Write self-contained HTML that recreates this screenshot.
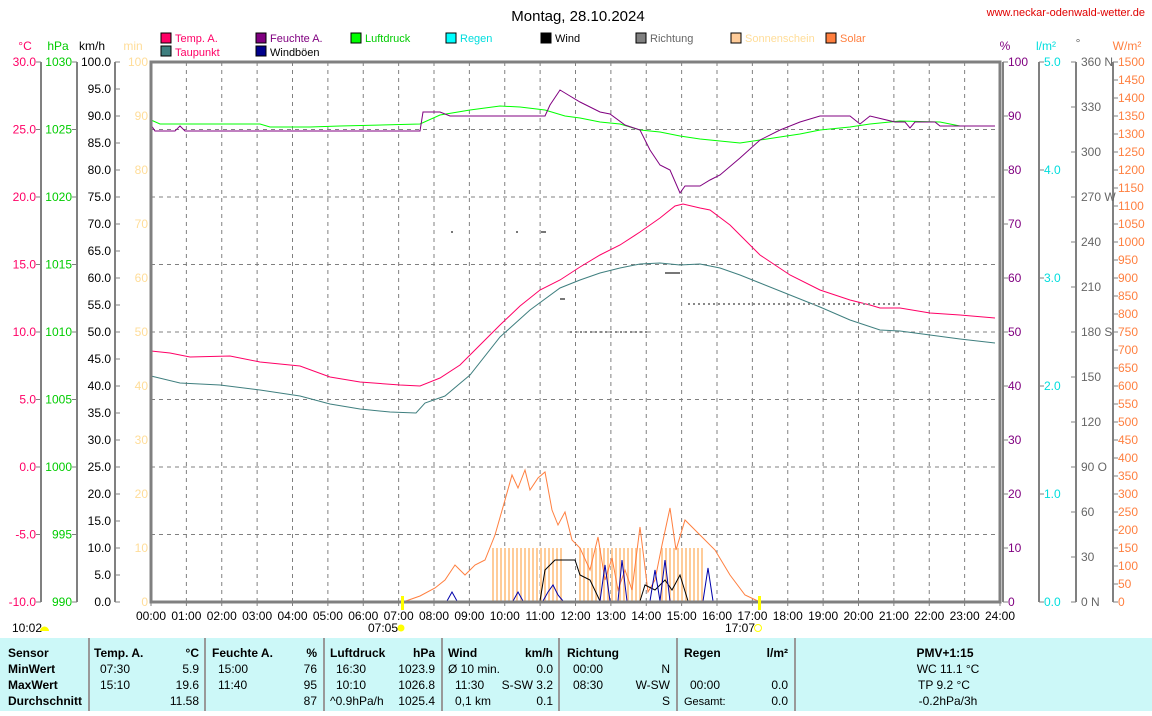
<!DOCTYPE html>
<html><head><meta charset="utf-8"><style>
body{margin:0;background:#fff;width:1152px;height:711px;overflow:hidden;font-family:"Liberation Sans",sans-serif}
svg text{font-family:"Liberation Sans",sans-serif;font-size:12px}
</style></head><body>
<svg width="1152" height="711" xmlns="http://www.w3.org/2000/svg">
<text x="578" y="21" text-anchor="middle" font-size="15" style="font-size:15px">Montag, 28.10.2024</text>
<text x="1145" y="16" text-anchor="end" fill="#e00000" style="font-size:11px">www.neckar-odenwald-wetter.de</text>
<g style="font-size:11px">
<rect x="161" y="33" width="10" height="10" fill="#f06" stroke="#000"/><text x="175" y="42" fill="#f06" style="font-size:11px">Temp. A.</text>
<rect x="161" y="46" width="10" height="10" fill="#3f7f7f" stroke="#000"/><text x="175" y="56" fill="#f06" style="font-size:11px">Taupunkt</text>
<rect x="256" y="33" width="10" height="10" fill="#800080" stroke="#000"/><text x="270" y="42" fill="#800080" style="font-size:11px">Feuchte A.</text>
<rect x="256" y="46" width="10" height="10" fill="#00008b" stroke="#000"/><text x="270" y="56" style="font-size:11px">Windböen</text>
<rect x="351" y="33" width="10" height="10" fill="#0f0" stroke="#000"/><text x="365" y="42" fill="#0c0" style="font-size:11px">Luftdruck</text>
<rect x="446" y="33" width="10" height="10" fill="#0ff" stroke="#000"/><text x="460" y="42" fill="#0dd" style="font-size:11px">Regen</text>
<rect x="541" y="33" width="10" height="10" fill="#000" stroke="#000"/><text x="555" y="42" style="font-size:11px">Wind</text>
<rect x="636" y="33" width="10" height="10" fill="#808080" stroke="#000"/><text x="650" y="42" fill="#666" style="font-size:11px">Richtung</text>
<rect x="731" y="33" width="10" height="10" fill="#fc9" stroke="#000"/><text x="745" y="42" fill="#fd9" style="font-size:11px">Sonnenschein</text>
<rect x="826" y="33" width="10" height="10" fill="#ff7f3f" stroke="#000"/><text x="840" y="42" fill="#ff7f3f" style="font-size:11px">Solar</text>
</g>
<text x="25" y="50" text-anchor="middle" fill="#f06">°C</text>
<text x="58" y="50" text-anchor="middle" fill="#0c0">hPa</text>
<text x="92" y="50" text-anchor="middle">km/h</text>
<text x="133" y="50" text-anchor="middle" fill="#fd9">min</text>
<text x="1005" y="50" text-anchor="middle" fill="#800080">%</text>
<text x="1046" y="50" text-anchor="middle" fill="#0dd">l/m²</text>
<text x="1078" y="47" text-anchor="middle" fill="#666">°</text>
<text x="1127" y="50" text-anchor="middle" fill="#ff7f3f">W/m²</text>
<g id="axes" stroke="#808080" stroke-width="2" fill="none">
<line x1="41" y1="62" x2="41" y2="602"/><line x1="77" y1="62" x2="77" y2="602"/><line x1="115" y1="62" x2="115" y2="602"/>
<line x1="1039" y1="62" x2="1039" y2="602"/><line x1="1076" y1="62" x2="1076" y2="602"/><line x1="1113" y1="62" x2="1113" y2="602"/>
</g>
<g id="grid" stroke="#808080" stroke-dasharray="4,4" stroke-width="1"></g>
<g id="labels"></g>
<g id="bars" stroke="#fc9" stroke-width="2"></g>
<polyline fill="none" stroke="#ff7f3f" stroke-width="1" points="403,602 420,596 435,588 445,580 455,565 465,575 475,565 485,560 495,535 505,500 512,475 518,488 525,470 530,490 538,478 545,472 552,510 558,525 565,512 572,540 580,548 590,570 598,537 605,580 612,558 618,590 625,570 632,590 640,527 648,592 655,580 662,545 670,508 676,550 685,520 700,535 715,550 730,575 745,595 760,602"/>
<polyline fill="none" stroke="#000" stroke-width="1" points="540,601 545,570 555,560 575,560 580,575 590,580 600,601"/>
<polyline fill="none" stroke="#000" stroke-width="1" points="640,601 645,585 655,590 665,580 672,590 680,575 688,601"/>
<polyline fill="none" stroke="#00a" stroke-width="1" points="447,601 452,592 457,601 M513,602"/>
<polyline fill="none" stroke="#00a" stroke-width="1" points="513,601 518,592 523,601"/>
<polyline fill="none" stroke="#00a" stroke-width="1" points="543,601 548,592 553,585 558,595 563,601"/>
<polyline fill="none" stroke="#00a" stroke-width="1" points="600,601 605,565 610,601 618,601 622,560 627,601 650,601 655,570 660,601 665,560 670,601"/>
<polyline fill="none" stroke="#00a" stroke-width="1" points="703,601 708,568 713,601"/>
<polyline fill="none" stroke="#0f0" stroke-width="1" points="151,120 160,124 260,124 270,127 310,127 340,126 420,124 440,115 470,110 500,106 520,107 545,110 565,116 580,118 600,122 620,124 640,130 660,132 680,136 700,139 720,141 740,143 760,140 780,137 800,134 820,130 850,127 870,124 900,121 940,122 960,126 995,126"/>
<polyline fill="none" stroke="#800080" stroke-width="1" points="151,125 155,131 175,131 180,126 185,131 200,131 420,131 423,112 440,112 450,116 465,116 545,116 550,105 560,90 565,93 580,102 600,112 610,114 625,125 640,130 650,150 660,165 670,170 680,193 685,186 700,186 710,180 720,175 740,158 760,140 780,130 800,122 820,116 850,116 860,124 870,116 895,122 905,122 910,128 915,122 935,122 940,126 995,126"/>
<polyline fill="none" stroke="#f06" stroke-width="1" points="151,351 170,353 190,357 230,356 260,362 300,366 330,377 360,382 400,385 420,386 440,378 460,365 480,345 500,325 520,306 540,290 560,280 580,267 600,255 620,245 640,232 660,218 675,206 683,204 700,208 710,210 730,225 760,255 790,275 820,290 850,300 870,305 880,308 900,308 930,313 960,315 995,318"/>
<polyline fill="none" stroke="#3f7f7f" stroke-width="1" points="151,376 180,383 220,385 260,390 300,396 330,404 360,409 390,412 416,413 425,403 445,396 470,375 500,337 530,310 560,288 580,280 600,273 620,268 640,264 660,263 680,265 700,264 720,268 740,275 760,283 790,295 820,307 850,320 880,330 900,331 930,335 960,339 995,343"/>
<g fill="#777"><rect x="451" y="231" width="2" height="2"/><rect x="516" y="231" width="2" height="2"/><rect x="541" y="231" width="5" height="2"/><rect x="560" y="298" width="5" height="2"/><rect x="665" y="272" width="15" height="2"/></g>
<g stroke="#888" stroke-width="2" stroke-dasharray="2,3"><line x1="570" y1="332" x2="650" y2="332"/><line x1="688" y1="304" x2="903" y2="304"/></g>
<rect x="151" y="62" width="849" height="540" fill="none" stroke="#808080" stroke-width="3"/>
<line x1="1003" y1="62" x2="1003" y2="602" stroke="#808080" stroke-width="2"/>
<rect x="401" y="596" width="3" height="14" fill="#ff0"/><rect x="758" y="596" width="3" height="14" fill="#ff0"/>
<text x="368" y="632">07:05</text><circle cx="401" cy="628" r="3.5" fill="#ff0"/>
<text x="725" y="632">17:07</text><circle cx="758" cy="628" r="3.5" fill="none" stroke="#ff0"/>
<text x="12" y="632">10:02</text><path d="M40 631 a4 4 0 0 1 9 0z" fill="#ff0"/>
<rect x="0" y="638" width="1152" height="73" fill="#ccf8f8"/>
<g stroke="#999" stroke-width="2"><line x1="89" y1="638" x2="89" y2="711"/><line x1="205" y1="638" x2="205" y2="711"/><line x1="324" y1="638" x2="324" y2="711"/><line x1="442" y1="638" x2="442" y2="711"/><line x1="559" y1="638" x2="559" y2="711"/><line x1="677" y1="638" x2="677" y2="711"/><line x1="795" y1="638" x2="795" y2="711"/></g>
<g style="font-size:12px;font-weight:bold"><text x="8" y="657">Sensor</text><text x="8" y="673">MinWert</text><text x="8" y="689">MaxWert</text><text x="8" y="705">Durchschnitt</text>
<text x="94" y="657">Temp. A.</text><text x="199" y="657" text-anchor="end">°C</text>
<text x="212" y="657">Feuchte A.</text><text x="317" y="657" text-anchor="end">%</text>
<text x="330" y="657">Luftdruck</text><text x="435" y="657" text-anchor="end">hPa</text>
<text x="448" y="657">Wind</text><text x="553" y="657" text-anchor="end">km/h</text>
<text x="567" y="657">Richtung</text><text x="684" y="657">Regen</text><text x="788" y="657" text-anchor="end">l/m²</text>
<text x="945" y="657" text-anchor="middle">PMV+1:15</text></g>
<g style="font-size:12px">
<text x="100" y="673">07:30</text><text x="199" y="673" text-anchor="end">5.9</text><text x="100" y="689">15:10</text><text x="199" y="689" text-anchor="end">19.6</text><text x="199" y="705" text-anchor="end">11.58</text>
<text x="218" y="673">15:00</text><text x="317" y="673" text-anchor="end">76</text><text x="218" y="689">11:40</text><text x="317" y="689" text-anchor="end">95</text><text x="317" y="705" text-anchor="end">87</text>
<text x="336" y="673">16:30</text><text x="435" y="673" text-anchor="end">1023.9</text><text x="336" y="689">10:10</text><text x="435" y="689" text-anchor="end">1026.8</text><text x="330" y="705">^0.9hPa/h</text><text x="435" y="705" text-anchor="end">1025.4</text>
<text x="448" y="673">Ø 10 min.</text><text x="553" y="673" text-anchor="end">0.0</text><text x="455" y="689">11:30</text><text x="553" y="689" text-anchor="end">S-SW 3.2</text><text x="455" y="705">0,1 km</text><text x="553" y="705" text-anchor="end">0.1</text>
<text x="573" y="673">00:00</text><text x="670" y="673" text-anchor="end">N</text><text x="573" y="689">08:30</text><text x="670" y="689" text-anchor="end">W-SW</text><text x="670" y="705" text-anchor="end">S</text>
<text x="690" y="689">00:00</text><text x="788" y="689" text-anchor="end">0.0</text><text x="684" y="705" style="font-size:11px">Gesamt:</text><text x="788" y="705" text-anchor="end">0.0</text>
<text x="948" y="673" text-anchor="middle">WC 11.1 °C</text><text x="944" y="689" text-anchor="middle">TP 9.2 °C</text><text x="948" y="705" text-anchor="middle">-0.2hPa/3h</text>
</g>
</svg>
<script>
var NS="http://www.w3.org/2000/svg";
function el(p,t,a,txt){var e=document.createElementNS(NS,t);for(var k in a)e.setAttribute(k,a[k]);if(txt!==undefined)e.textContent=txt;document.getElementById(p).appendChild(e);return e;}
var y=function(f){return 602-540*f;};
for(var h=1;h<24;h++){var x=151+h*849/24;el('grid','line',{x1:x,y1:62,x2:x,y2:602});}
for(var i=1;i<8;i++){el('grid','line',{x1:151,y1:y(i/8),x2:1000,y2:y(i/8)});}
for(var h=0;h<=24;h++){var x=151+h*849/24;el('labels','text',{x:x,y:620,'text-anchor':'middle'},(h<10?'0':'')+h+':00');el('labels','line',{x1:x,y1:602,x2:x,y2:606,stroke:'#808080'});}
function tick(x,dir,yy){el('labels','line',{x1:x,y1:yy,x2:x+dir*5,y2:yy,stroke:'#808080'});}
for(var i=0;i<=8;i++){var yy=y(i/8);
 el('labels','text',{x:36,y:yy+4,'text-anchor':'end',fill:'#f06'},(-10+5*i).toFixed(1));tick(41,-1,yy);
 el('labels','text',{x:72,y:yy+4,'text-anchor':'end',fill:'#0c0'},990+5*i);tick(77,-1,yy);}
for(var i=0;i<=20;i++){var yy=y(i/20);el('labels','text',{x:111,y:yy+4,'text-anchor':'end'},(5*i).toFixed(1));tick(115,1,yy);}
for(var i=0;i<=10;i++){var yy=y(i/10);el('labels','text',{x:148,y:yy+4,'text-anchor':'end',fill:'#fd9'},10*i);
 el('labels','text',{x:1008,y:yy+4,fill:'#800080'},10*i);tick(1003,1,yy);}
for(var i=0;i<=5;i++){var yy=y(i/5);el('labels','text',{x:1044,y:yy+4,fill:'#0dd'},i.toFixed(1));tick(1039,1,yy);}
var dl={0:' N',90:' O',180:' S',270:' W',360:' N'};
for(var i=0;i<=12;i++){var yy=y(i/12),v=30*i;el('labels','text',{x:1081,y:yy+4,fill:'#666'},v+(dl[v]||''));tick(1076,-1,yy);}
for(var i=0;i<=30;i++){var yy=y(i/30);el('labels','text',{x:1118,y:yy+4,fill:'#ff7f3f'},50*i);tick(1113,1,yy);}
var segs=[[493,561],[580,640],[662,702]];
segs.forEach(function(s){for(var x=s[0];x<=s[1];x+=4){el('bars','line',{x1:x,y1:548,x2:x,y2:602});}});
</script>
</body></html>
